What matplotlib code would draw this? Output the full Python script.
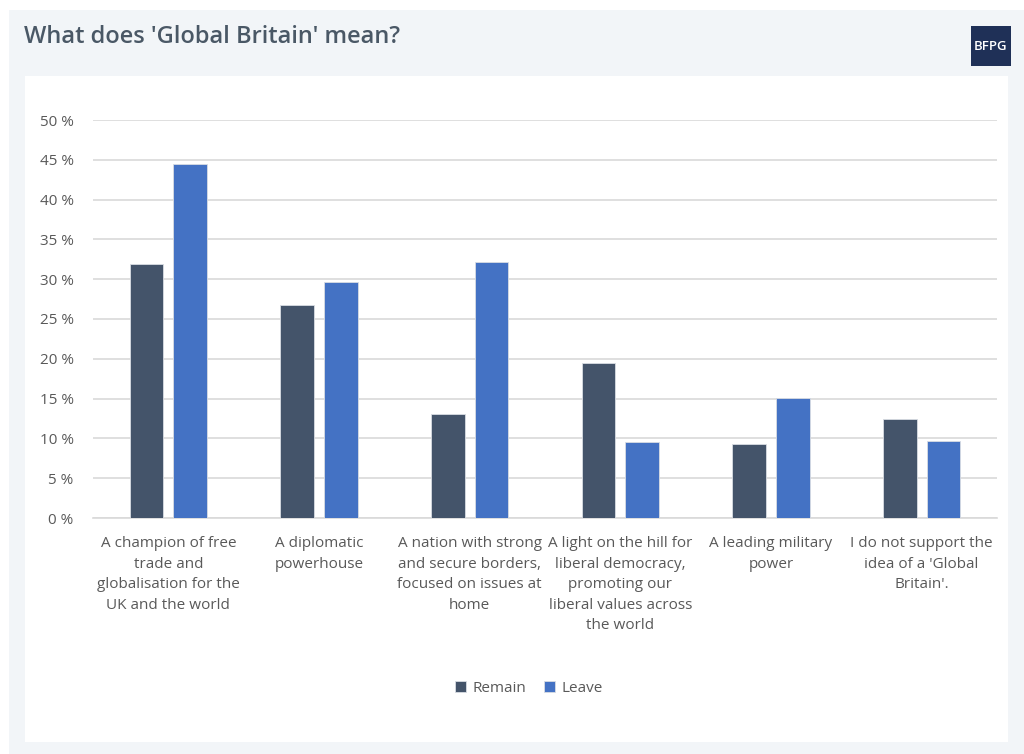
import matplotlib
matplotlib.use("Agg")
import matplotlib.pyplot as plt
from matplotlib.patches import Rectangle
import numpy as np

categories = [
    "A champion of free\ntrade and\nglobalisation for the\nUK and the world",
    "A diplomatic\npowerhouse",
    "A nation with strong\nand secure borders,\nfocused on issues at\nhome",
    "A light on the hill for\nliberal democracy,\npromoting our\nliberal values across\nthe world",
    "A leading military\npower",
    "I do not support the\nidea of a 'Global\nBritain'.",
]
remain = [31.9, 26.8, 13.1, 19.5, 9.3, 12.4]
leave = [44.5, 29.6, 32.2, 9.5, 15.1, 9.7]
yticks = [0, 5, 10, 15, 20, 25, 30, 35, 40, 45, 50]
series_names = ["Remain", "Leave"]

W, H = 1024, 754
fig = plt.figure(figsize=(W / 100, H / 100), dpi=100)
fig.patch.set_facecolor("white")

def fx(px):
    return px / W

def fy(py):
    return 1 - py / H

# outer light panel
fig.patches.append(Rectangle((fx(9), fy(754)), fx(1024) - fx(9), fy(10) - fy(754),
                             transform=fig.transFigure, facecolor="#f2f5f8", edgecolor="none", zorder=-3))
# inner white panel
fig.patches.append(Rectangle((fx(25), fy(742)), fx(1008) - fx(25), fy(76) - fy(742),
                             transform=fig.transFigure, facecolor="white", edgecolor="none", zorder=-2))
# logo box
fig.patches.append(Rectangle((fx(971), fy(66)), fx(40), fy(26) - fy(66),
                             transform=fig.transFigure, facecolor="#1f3057", edgecolor="none", zorder=-1))
fig.text(fx(991), fy(46), "BFPG", color="white", fontsize=9.5, ha="center", va="center",
         family="Open Sans", fontweight="semibold")

fig.text(fx(24), fy(37), "What does 'Global Britain' mean?", color="#4a5866", fontsize=17,
         ha="left", va="center", family="Open Sans", fontweight="semibold")

ax = fig.add_axes([fx(93), fy(518), fx(997) - fx(93), fy(120) - fy(518)], zorder=2)
ax.set_facecolor("none")
x = np.arange(len(categories))
bw = 0.225
gap = 0.065
ax.bar(x - (bw + gap) / 2, remain, bw, color="#44546a", edgecolor="#d9dde3", linewidth=0.6,
       label=series_names[0], zorder=3)
ax.bar(x + (bw + gap) / 2, leave, bw, color="#4472c4", edgecolor="#d9dde3", linewidth=0.6,
       label=series_names[1], zorder=3)

ax.set_xlim(-0.5, len(categories) - 0.5)
ax.set_ylim(0, 50)
ax.set_yticks(yticks)
ax.set_yticklabels([f"{v} %" for v in yticks], family="Open Sans", fontsize=11, color="#595959")
ax.yaxis.grid(True, color="#d9d9d9", linewidth=1.2, zorder=0)
ax.set_axisbelow(True)
for s in ["top", "right", "left"]:
    ax.spines[s].set_visible(False)
ax.spines["bottom"].set_color("#d9d9d9")
ax.spines["bottom"].set_linewidth(1.2)
ax.tick_params(axis="y", length=0, pad=14)
ax.tick_params(axis="x", length=0, pad=13)
ax.set_xticks(x)
ax.set_xticklabels(categories, family="Open Sans", fontsize=11, color="#595959",
                   linespacing=1.5, va="top")

leg = fig.legend(loc="center", bbox_to_anchor=(fx(529), fy(688)), ncol=2, frameon=False,
                 prop={"family": "Open Sans", "size": 11}, handlelength=0.7, handleheight=0.7,
                 columnspacing=1.2, handletextpad=0.4)
for t in leg.get_texts():
    t.set_color("#595959")

fig.savefig("out.png", dpi=100, facecolor=fig.get_facecolor())
